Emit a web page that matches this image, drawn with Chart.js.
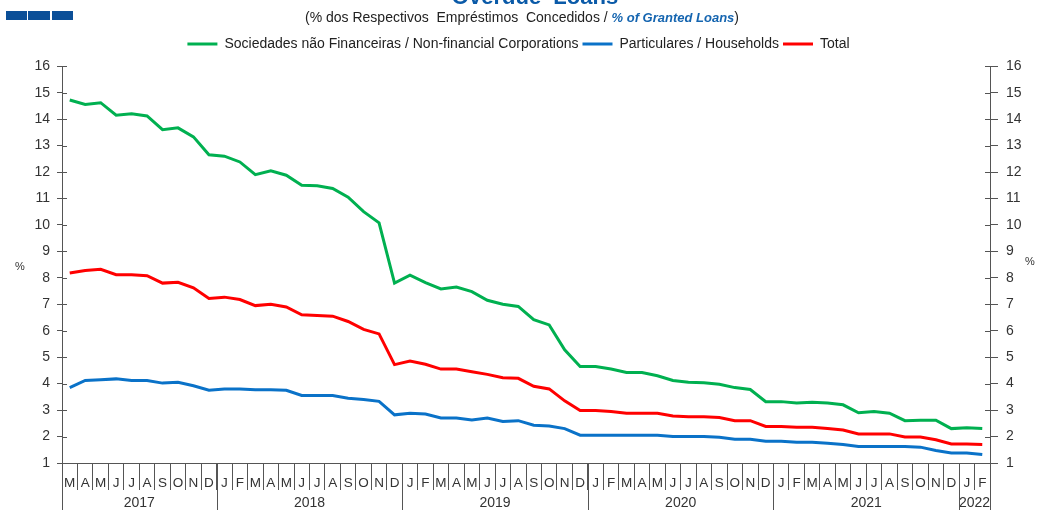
<!DOCTYPE html>
<html>
<head>
<meta charset="utf-8">
<script src="https://cdn.jsdelivr.net/npm/chart.js@4.4.1/dist/chart.umd.min.js"></script>
<style>
  html, body { margin: 0; padding: 0; background: #fff; }
  canvas { display: block; }
</style>
</head>
<body>
<canvas id="chart" width="1037" height="510"></canvas>
<script>
// ---- data (Mar 2017 .. Feb 2022, monthly) ----
const monthLabels = [
  'M','A','M','J','J','A','S','O','N','D',
  'J','F','M','A','M','J','J','A','S','O','N','D',
  'J','F','M','A','M','J','J','A','S','O','N','D',
  'J','F','M','A','M','J','J','A','S','O','N','D',
  'J','F','M','A','M','J','J','A','S','O','N','D',
  'J','F'
];
const years = ['2017', '2018', '2019', '2020', '2021', '2022'];
const monthsInYear = [10, 12, 12, 12, 12, 2];

const corporations = [
  14.72, 14.55, 14.62, 14.15, 14.2, 14.12, 13.6, 13.67, 13.33, 12.65,
  12.6, 12.38, 11.9, 12.05, 11.88, 11.5, 11.48, 11.38, 11.05, 10.5, 10.08, 7.8,
  8.1, 7.82, 7.58, 7.65, 7.48, 7.15, 7.0, 6.92, 6.42, 6.22, 5.28, 4.65,
  4.65, 4.55, 4.42, 4.42, 4.3, 4.12, 4.05, 4.03, 3.98, 3.85, 3.78, 3.32,
  3.32, 3.27, 3.3, 3.27, 3.2, 2.9, 2.95, 2.88, 2.6, 2.62, 2.62, 2.3,
  2.33, 2.3
];
const households = [
  3.85, 4.12, 4.15, 4.18, 4.12, 4.12, 4.02, 4.05, 3.92, 3.75,
  3.8, 3.8, 3.77, 3.77, 3.75, 3.55, 3.55, 3.55, 3.45, 3.4, 3.33, 2.82,
  2.88, 2.85, 2.7, 2.7, 2.63, 2.7, 2.57, 2.6, 2.43, 2.4, 2.3, 2.05,
  2.05, 2.05, 2.05, 2.05, 2.05, 2.0, 2.0, 2.0, 1.97, 1.9, 1.9, 1.82,
  1.82, 1.78, 1.78, 1.75, 1.7, 1.62, 1.62, 1.62, 1.62, 1.6, 1.47, 1.38,
  1.38, 1.32
];
const total = [
  8.18, 8.28, 8.32, 8.12, 8.12, 8.08, 7.8, 7.83, 7.62, 7.22,
  7.27, 7.18, 6.95, 7.0, 6.9, 6.6, 6.58, 6.55, 6.35, 6.05, 5.88, 4.72,
  4.85, 4.73, 4.55, 4.55, 4.45, 4.35, 4.22, 4.2, 3.9, 3.8, 3.35, 2.98,
  2.98, 2.95, 2.88, 2.88, 2.88, 2.78, 2.75, 2.75, 2.72, 2.6, 2.6, 2.38,
  2.38, 2.35, 2.35, 2.3, 2.25, 2.1, 2.1, 2.1, 1.98, 1.98, 1.88, 1.72,
  1.72, 1.7
];

const FONT = "'Liberation Sans', Arial, sans-serif";
Chart.defaults.font.family = FONT;
Chart.defaults.color = '#333';

// title, logo, year row and small extras
const decorations = {
  id: 'decorations',
  afterDraw(chart) {
    const c = chart.ctx;
    const x = chart.scales.x;
    const y = chart.scales.y;
    const area = chart.chartArea;
    c.save();

    // logo blocks
    c.fillStyle = '#0b4f98';
    c.fillRect(6, 11, 21, 9);
    c.fillRect(28, 11, 22, 9);
    c.fillRect(52, 11, 21, 9);

    // main title (cut off at the top)
    c.fillStyle = '#0a5aa8';
    c.font = 'bold 22px ' + FONT;
    c.textAlign = 'center';
    c.textBaseline = 'alphabetic';
    c.fillText('Overdue  Loans', 535, 4);

    // subtitle with mixed styles
    const part1 = '(% dos Respectivos  Empréstimos  Concedidos / ';
    const part2 = '% of Granted Loans';
    const part3 = ')';
    const f1 = '14px ' + FONT;
    const f2 = 'italic bold 13px ' + FONT;
    c.font = f1; const w1 = c.measureText(part1).width; const w3 = c.measureText(part3).width;
    c.font = f2; const w2 = c.measureText(part2).width;
    let sx = 522 - (w1 + w2 + w3) / 2;
    c.textAlign = 'left';
    c.textBaseline = 'middle';
    c.font = f1; c.fillStyle = '#222'; c.fillText(part1, sx, 18);
    c.font = f2; c.fillStyle = '#1565b0'; c.fillText(part2, sx + w1, 18);
    c.font = f1; c.fillStyle = '#222'; c.fillText(part3, sx + w1 + w2, 18);

    // % unit labels
    c.font = '11px ' + FONT;
    c.fillStyle = '#333';
    c.textAlign = 'center';
    c.fillText('%', 20, 267);
    c.fillText('%', 1030, 262);

    // inner halves of the y tick marks
    c.strokeStyle = '#555';
    c.lineWidth = 1;
    c.beginPath();
    y.ticks.forEach(t => {
      const py = Math.round(y.getPixelForValue(t.value)) + 0.5;
      c.moveTo(area.left, py); c.lineTo(area.left + 5, py);
      c.moveTo(area.right - 5, py); c.lineTo(area.right, py);
    });
    c.stroke();

    // year separators and labels
    const half = (x.getPixelForValue(1) - x.getPixelForValue(0)) / 2;
    c.font = '14px ' + FONT;
    c.fillStyle = '#333';
    c.textBaseline = 'middle';
    c.beginPath();
    let idx = 0;
    years.forEach((yr, i) => {
      const start = x.getPixelForValue(idx) - half;
      const end = x.getPixelForValue(idx + monthsInYear[i] - 1) + half;
      const sxp = Math.round(start) + 0.5;
      c.moveTo(sxp, area.bottom); c.lineTo(sxp, 510);
      c.fillText(yr, (start + end) / 2, 503);
      idx += monthsInYear[i];
    });
    const ex = Math.round(area.right) + 0.5;
    c.moveTo(ex, area.bottom); c.lineTo(ex, 510);
    c.stroke();

    c.restore();
  }
};

const ctx = document.getElementById('chart').getContext('2d');
const chart = new Chart(ctx, {
  type: 'line',
  data: {
    labels: monthLabels,
    datasets: [
      { label: 'Sociedades não Financeiras / Non-financial Corporations', data: corporations,
        borderColor: '#00b050', backgroundColor: '#00b050' },
      { label: 'Particulares / Households', data: households,
        borderColor: '#0a72c8', backgroundColor: '#0a72c8' },
      { label: 'Total', data: total,
        borderColor: '#ff0000', backgroundColor: '#ff0000' }
    ]
  },
  options: {
    responsive: false,
    devicePixelRatio: 1,
    animation: false,
    layout: { padding: { top: 33, left: 0, right: 0, bottom: 0 } },
    elements: {
      line: { borderWidth: 3, tension: 0 },
      point: { radius: 0 }
    },
    plugins: {
      legend: {
        position: 'top',
        labels: {
          color: '#222',
          font: { size: 14 },
          boxWidth: 30,
          boxHeight: 3,
          padding: 4,
          generateLabels: (ch) => Chart.defaults.plugins.legend.labels.generateLabels(ch)
            .map(l => ({ ...l, lineWidth: 0, fillStyle: l.strokeStyle }))
        }
      },
      // empty spacer between the legend and the plot
      subtitle: {
        display: true,
        text: ' ',
        weight: 500,
        font: { size: 1 },
        padding: { top: 0, bottom: 4 }
      },
      tooltip: { enabled: false }
    },
    scales: {
      x: {
        offset: true,
        grid: { offset: true, drawOnChartArea: false, tickLength: 27, color: '#555' },
        border: { color: '#555' },
        ticks: { autoSkip: false, maxRotation: 0, padding: -15, font: { size: 13.5 }, color: '#333' },
        afterFit: (s) => { s.height = 47; }
      },
      y: {
        position: 'left',
        min: 1, max: 16,
        ticks: { stepSize: 1, padding: 7, font: { size: 14 }, color: '#333' },
        grid: { drawOnChartArea: false, tickLength: 5, color: '#555' },
        border: { color: '#555' },
        afterFit: (s) => { s.width = 62; }
      },
      y2: {
        position: 'right',
        min: 1, max: 16,
        ticks: { stepSize: 1, padding: 8, font: { size: 14 }, color: '#333' },
        grid: { drawOnChartArea: false, tickLength: 8, color: '#555' },
        border: { color: '#555' },
        afterFit: (s) => { s.width = 47; }
      }
    }
  },
  plugins: [decorations]
});
</script>
</body>
</html>
